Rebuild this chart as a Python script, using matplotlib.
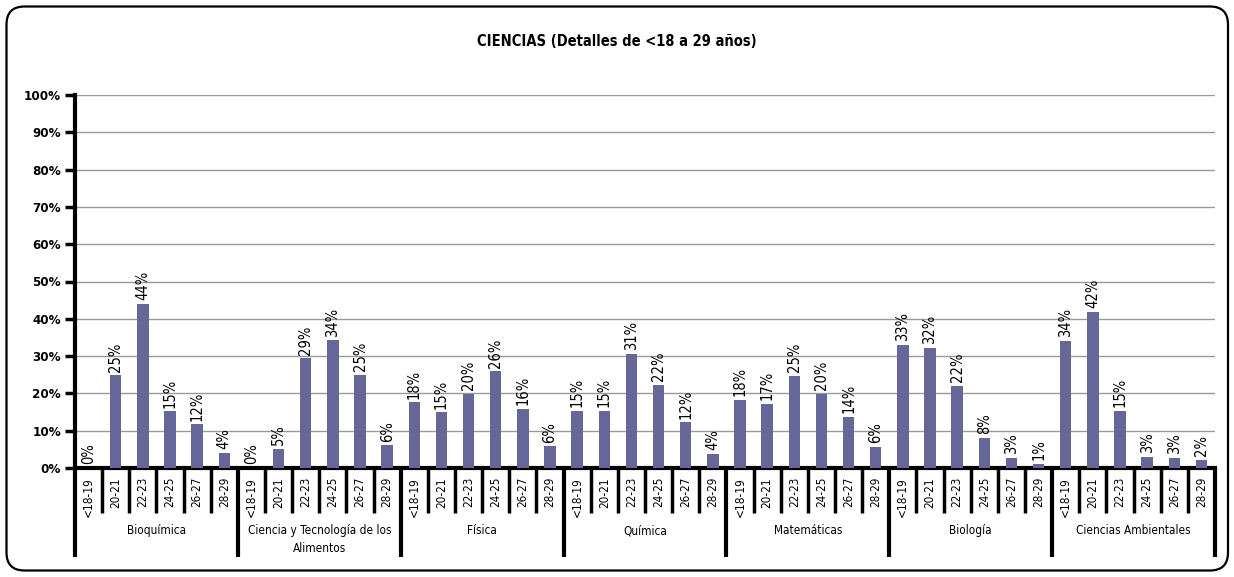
import matplotlib
matplotlib.use("Agg")
import matplotlib.pyplot as plt
from matplotlib import font_manager
from matplotlib.patches import FancyBboxPatch
from matplotlib.transforms import blended_transform_factory
from matplotlib.ticker import PercentFormatter

# prefer a narrow/condensed sans if one is installed
narrow = None
for f in font_manager.fontManager.ttflist:
    if f.name in ('Liberation Sans Narrow', 'Arial Narrow'):
        narrow = f.name
        break
fam = [narrow] if narrow else []
plt.rcParams['font.family'] = fam + ['Liberation Sans', 'DejaVu Sans']
stretch = 'normal'
if not narrow:
    for f in font_manager.fontManager.ttflist:
        if f.name == 'DejaVu Sans' and f.stretch == 'condensed':
            plt.rcParams['font.family'] = ['DejaVu Sans']
            stretch = 'condensed'
            break
plt.rcParams['font.stretch'] = stretch

title = "CIENCIAS (Detalles de <18 a 29 años)"
groups = ["Bioquímica", "Ciencia y Tecnología de los\nAlimentos", "Física", "Química",
          "Matemáticas", "Biología", "Ciencias Ambientales"]
age_ranges = ["<18-19", "20-21", "22-23", "24-25", "26-27", "28-29"]

bioquimica = [0.0, 24.8, 44.1, 15.2, 11.7, 4.1]
cyta = [0.0, 5.1, 29.4, 34.2, 24.9, 6.1]
fisica = [17.6, 14.9, 19.8, 25.9, 15.8, 5.8]
quimica = [15.4, 15.4, 30.6, 22.3, 12.2, 3.7]
matematicas = [18.3, 17.2, 24.7, 19.9, 13.7, 5.6]
biologia = [33.0, 32.2, 22.1, 8.1, 2.8, 1.1]
ambientales = [34.1, 41.9, 15.3, 3.0, 2.7, 2.2]

series = [bioquimica, cyta, fisica, quimica, matematicas, biologia, ambientales]

values = [v for s in series for v in s]
n = len(values)
xs = list(range(n))

W, H = 1234, 577
fig = plt.figure(figsize=(W / 100, H / 100), dpi=100)

# rounded border (inch coordinates)
border = FancyBboxPatch((0.065, 0.065), (1228 - 6.5) / 100, (577 - 13) / 100,
                        boxstyle="round,pad=0,rounding_size=0.18",
                        transform=fig.dpi_scale_trans, fill=False, lw=1.6, ec='black')
fig.patches.append(border)

left, right, top, bottom = 75, 1215, 95, 468
ax = fig.add_axes([left / W, 1 - bottom / H, (right - left) / W, (bottom - top) / H])

ax.bar(xs, values, width=0.42, color='#666699', zorder=3)
ax.set_xlim(-0.5, n - 0.5)
ax.set_ylim(0, 100)
ax.set_yticks(range(0, 101, 10))
ax.yaxis.set_major_formatter(PercentFormatter(100, decimals=0))
ax.grid(axis='y', color='#999999', lw=1.0, zorder=0)
ax.set_xticks([])
for sp in ['top', 'right']:
    ax.spines[sp].set_visible(False)
ax.spines['left'].set_linewidth(3)
ax.spines['bottom'].set_linewidth(3)
ax.tick_params(axis='y', direction='out', length=7, width=2.5, labelsize=9.5, pad=3)
for lab in ax.get_yticklabels():
    lab.set_fontweight('bold')

# data labels
for x, v in zip(xs, values):
    ax.text(x, v + 1.0, f"{int(v + 0.5)}%", rotation=90, ha='center', va='bottom',
            fontsize=10.5, zorder=4)

axh = bottom - top
trans = blended_transform_factory(ax.transData, ax.transAxes)
short = -45 / axh
long_ = -89 / axh
for i in range(n + 1):
    is_group = (i % 6 == 0)
    ax.plot([i - 0.5, i - 0.5], [0, long_ if is_group else short], transform=trans,
            color='black', lw=3 if is_group else 2.5, clip_on=False, solid_capstyle='butt')

for x, lab in zip(xs, age_ranges * len(groups)):
    ax.text(x, -9 / axh, lab, rotation=90, ha='center', va='top', fontsize=8.5,
            transform=trans)

for g, name in enumerate(groups):
    ax.text(g * 6 + 2.5, -56 / axh, name, ha='center', va='top', fontsize=8.5,
            transform=trans, linespacing=1.5)

fig.text(0.5, 1 - 42 / H, title, ha='center', va='center', fontsize=10.5, fontweight='bold')

fig.savefig("out.png", dpi=100)
